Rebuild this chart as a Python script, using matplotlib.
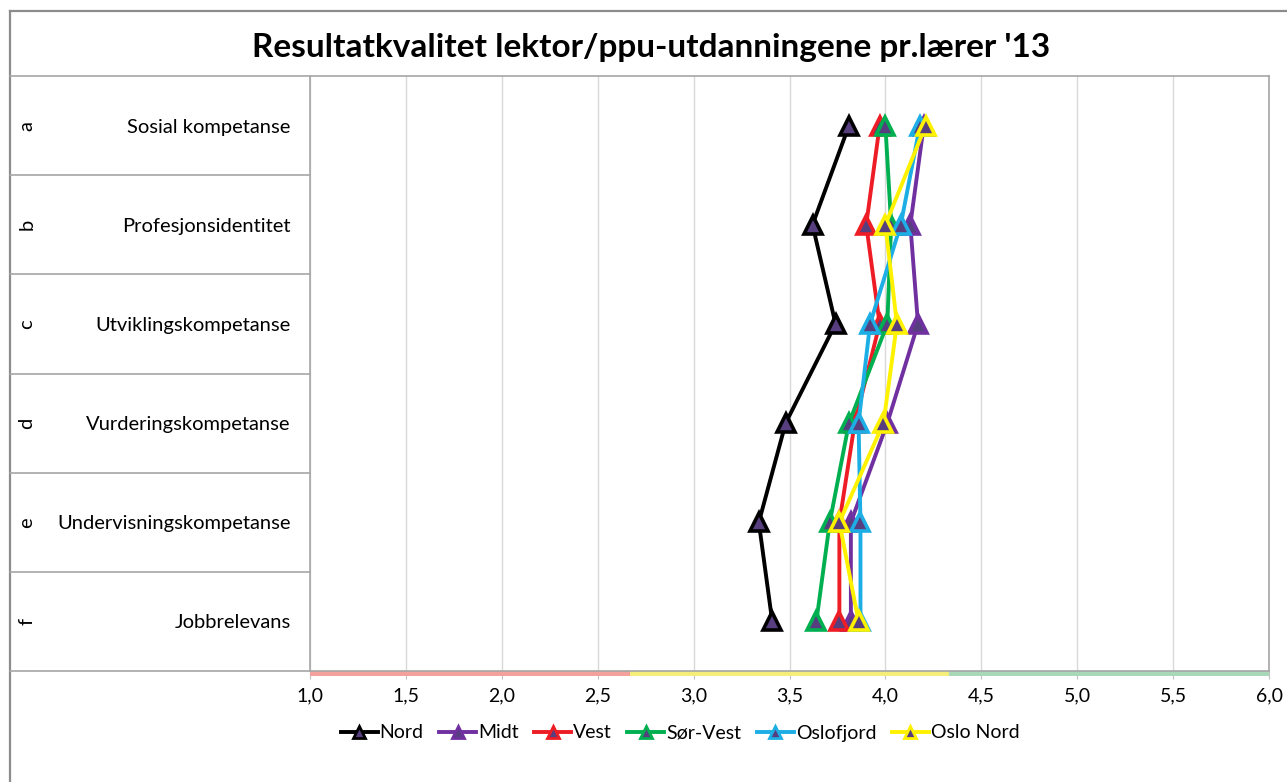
import matplotlib
matplotlib.use("Agg")
import matplotlib.pyplot as plt
from matplotlib.lines import Line2D
from matplotlib.patches import Rectangle
from matplotlib.ticker import FuncFormatter
import matplotlib.transforms as mtransforms

# ---------------- data ----------------
categories = ["Sosial kompetanse", "Profesjonsidentitet", "Utviklingskompetanse",
              "Vurderingskompetanse", "Undervisningskompetanse", "Jobbrelevans"]
letters = ["a", "b", "c", "d", "e", "f"]
series_names = ["Nord", "Midt", "Vest", "Sør-Vest", "Oslofjord", "Oslo Nord"]
nord = [3.81, 3.62, 3.74, 3.48, 3.34, 3.41]
midt = [4.20, 4.13, 4.17, 4.01, 3.82, 3.82]
vest = [3.97, 3.90, 3.97, 3.84, 3.76, 3.76]
sorvest = [4.00, 4.03, 4.01, 3.81, 3.71, 3.64]
oslofjord = [4.18, 4.08, 3.92, 3.86, 3.87, 3.87]
oslonord = [4.21, 4.00, 4.06, 3.99, 3.76, 3.86]
series_values = [nord, midt, vest, sorvest, oslofjord, oslonord]
series_colors = ["#000000", "#7030A0", "#EE1C25", "#00B050", "#1CAEE4", "#FFF200"]
marker_fill = "#573F7F"
band_edges = [1.0, 2.667, 4.333, 6.0]
band_colors = ["#F4A09C", "#F6EE7A", "#A8D8B8"]
xticks = [1.0, 1.5, 2.0, 2.5, 3.0, 3.5, 4.0, 4.5, 5.0, 5.5, 6.0]
title = "Resultatkvalitet lektor/ppu-utdanningene pr.lærer '13"

plt.rcParams['font.family'] = ['Lato', 'DejaVu Sans']

W, H = 1287, 782
fig = plt.figure(figsize=(W / 100, H / 100), dpi=100)

def fx(px):
    return px / W

def fy(py):
    return 1 - py / H

# axes box in pixels
L, R, T, B = 310, 1269, 76, 671
ax = fig.add_axes([fx(L), fy(B), fx(R) - fx(L), fy(T) - fy(B)])

n = len(categories)
ypos = [i + 0.5 for i in range(n)]

for name, vals, col in zip(series_names, series_values, series_colors):
    ax.plot(vals, ypos, color=col, lw=2.8, marker="^", markersize=13,
            markerfacecolor=marker_fill, markeredgecolor=col,
            markeredgewidth=2.6, label=name, zorder=3, clip_on=False)

ax.set_xlim(1.0, 6.0)
ax.set_ylim(n, 0)
ax.set_xticks(xticks)
ax.xaxis.set_major_formatter(FuncFormatter(lambda v, p: f"{v:.1f}".replace(".", ",")))
ax.grid(axis="x", color="#D9D9D9", lw=1.0, zorder=0)
ax.set_yticks(ypos)
ax.set_yticklabels(categories, fontsize=14.5)
ax.tick_params(axis="y", length=0, pad=14)
ax.tick_params(axis="x", length=6, color="#BFBFBF", labelsize=14, pad=6, direction="out")
for s in ["top", "bottom"]:
    ax.spines[s].set_visible(False)
for s in ["left", "right"]:
    ax.spines[s].set_color("#A6A6A6")
    ax.spines[s].set_linewidth(1.2)

# coloured band below the plot
tr = ax.get_xaxis_transform()
bh = 5 / (B - T)
for x0, x1, c in zip(band_edges[:-1], band_edges[1:], band_colors):
    ax.add_patch(Rectangle((x0, -bh), x1 - x0, bh, transform=tr,
                           facecolor=c, edgecolor="none", clip_on=False, zorder=2))

# letters
btr = mtransforms.blended_transform_factory(fig.transFigure, ax.transData)
for yv, let in zip(ypos, letters):
    ax.text(fx(27), yv, let, transform=btr,
            rotation=90, ha="center", va="center", fontsize=14.5)

# frame / table lines
gray = "#A6A6A6"
def hline(y, x0, x1, lw=1.2, c=gray):
    fig.add_artist(Line2D([fx(x0), fx(x1)], [fy(y), fy(y)], color=c, lw=lw))

def vline(x, y0, y1, lw=1.2, c=gray):
    fig.add_artist(Line2D([fx(x), fx(x)], [fy(y0), fy(y1)], color=c, lw=lw))

hline(11, 10, W, lw=1.6, c="#8C8C8C")
vline(10, 11, H, lw=1.6, c="#8C8C8C")
hline(T, 10, R)
hline(B, 10, R)
row_h = (B - T) / n
for i in range(1, n):
    hline(T + i * row_h, 10, L)

fig.text(fx(651), fy(47), title, ha="center", va="center", fontsize=24, fontweight="bold")

handles = [Line2D([], [], color=c, lw=2.8, marker="^", markersize=9,
                  markerfacecolor=marker_fill, markeredgecolor=c, markeredgewidth=2)
           for c in series_colors]
fig.legend(handles, series_names, loc="center", bbox_to_anchor=(fx(680), fy(733)),
           ncol=6, frameon=False, fontsize=14, handlelength=1.9, handletextpad=0.1,
           columnspacing=0.8)

fig.savefig("out.png", dpi=100)
